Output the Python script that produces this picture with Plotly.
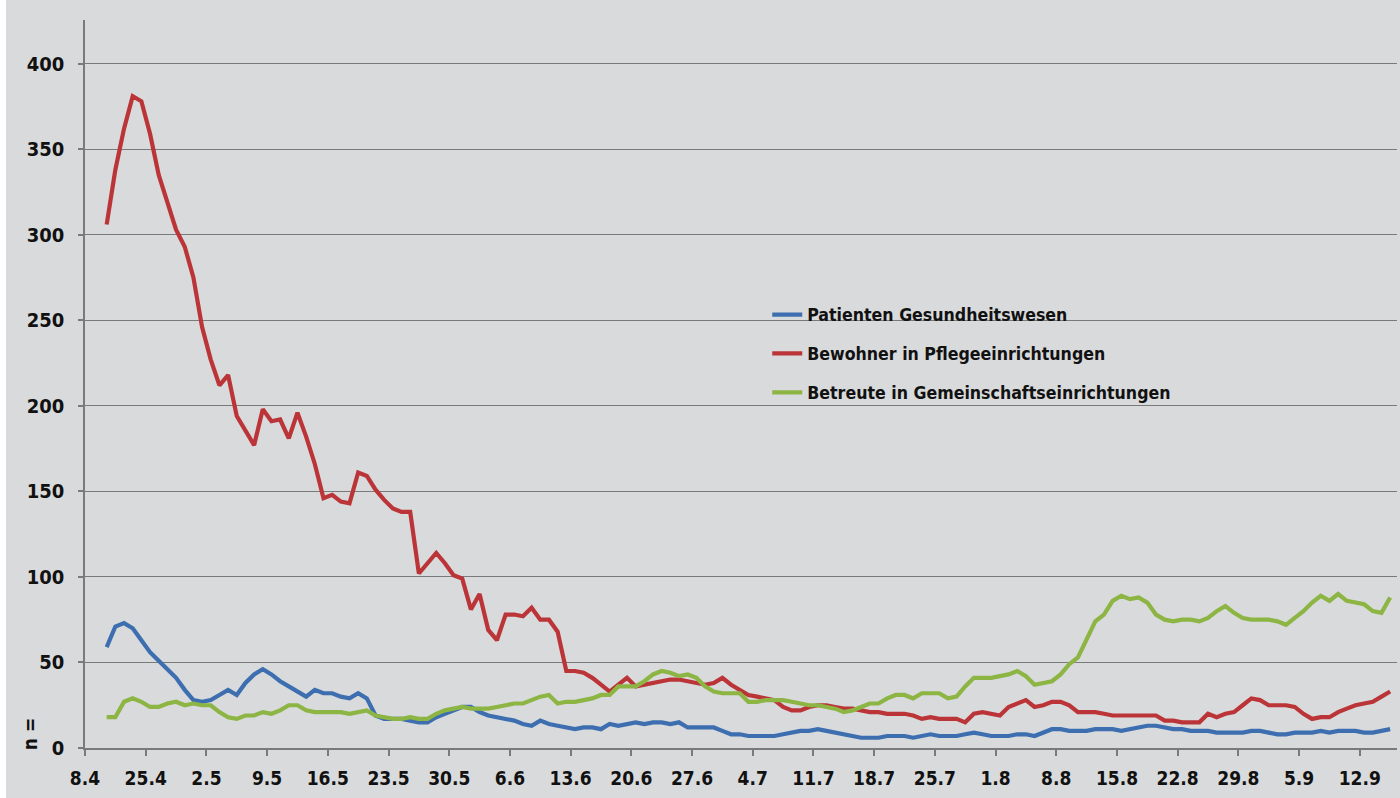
import pandas as pd
import plotly.graph_objects as go

# ---- data (daily values) ----
start_date = "2020-04-20"

patienten = [59, 71, 73, 70, 63, 56, 51, 46, 41, 34,
             28, 27, 28, 31, 34, 31, 38, 43, 46, 43,
             39, 36, 33, 30, 34, 32, 32, 30, 29, 32,
             29, 19, 17, 17, 17, 16, 15, 15, 18, 20,
             22, 24, 24, 21, 19, 18, 17, 16, 14, 13,
             16, 14, 13, 12, 11, 12, 12, 11, 14, 13,
             14, 15, 14, 15, 15, 14, 15, 12, 12, 12,
             12, 10, 8, 8, 7, 7, 7, 7, 8, 9,
             10, 10, 11, 10, 9, 8, 7, 6, 6, 6,
             7, 7, 7, 6, 7, 8, 7, 7, 7, 8,
             9, 8, 7, 7, 7, 8, 8, 7, 9, 11,
             11, 10, 10, 10, 11, 11, 11, 10, 11, 12,
             13, 13, 12, 11, 11, 10, 10, 10, 9, 9,
             9, 9, 10, 10, 9, 8, 8, 9, 9, 9,
             10, 9, 10, 10, 10, 9, 9, 10, 11]

bewohner = [306, 338, 362, 381, 378, 359, 335, 318, 303, 293,
            275, 246, 227, 212, 218, 194, 185, 177, 198, 191,
            192, 181, 196, 182, 166, 146, 148, 144, 143, 161,
            159, 151, 145, 140, 138, 138, 102, 108, 114, 108,
            101, 99, 81, 90, 69, 63, 78, 78, 77, 82,
            75, 75, 68, 45, 45, 44, 41, 37, 33, 37,
            41, 36, 37, 38, 39, 40, 40, 39, 38, 37,
            38, 41, 37, 34, 31, 30, 29, 28, 24, 22,
            22, 24, 25, 25, 24, 23, 23, 22, 21, 21,
            20, 20, 20, 19, 17, 18, 17, 17, 17, 15,
            20, 21, 20, 19, 24, 26, 28, 24, 25, 27,
            27, 25, 21, 21, 21, 20, 19, 19, 19, 19,
            19, 19, 16, 16, 15, 15, 15, 20, 18, 20,
            21, 25, 29, 28, 25, 25, 25, 24, 20, 17,
            18, 18, 21, 23, 25, 26, 27, 30, 33]

betreute = [18, 18, 27, 29, 27, 24, 24, 26, 27, 25,
            26, 25, 25, 21, 18, 17, 19, 19, 21, 20,
            22, 25, 25, 22, 21, 21, 21, 21, 20, 21,
            22, 19, 18, 17, 17, 18, 17, 17, 20, 22,
            23, 24, 23, 23, 23, 24, 25, 26, 26, 28,
            30, 31, 26, 27, 27, 28, 29, 31, 31, 36,
            36, 36, 39, 43, 45, 44, 42, 43, 41, 36,
            33, 32, 32, 32, 27, 27, 28, 28, 28, 27,
            26, 25, 25, 24, 23, 21, 22, 24, 26, 26,
            29, 31, 31, 29, 32, 32, 32, 29, 30, 36,
            41, 41, 41, 42, 43, 45, 42, 37, 38, 39,
            43, 49, 53, 64, 74, 78, 86, 89, 87, 88,
            85, 78, 75, 74, 75, 75, 74, 76, 80, 83,
            79, 76, 75, 75, 75, 74, 72, 76, 80, 85,
            89, 86, 90, 86, 85, 84, 80, 79, 88]

series_names = ["Patienten Gesundheitswesen",
                "Bewohner in Pflegeeinrichtungen",
                "Betreute in Gemeinschaftseinrichtungen"]
series_colors = ["#3d6fb0", "#bb3538", "#8cb543"]

tick_start = "2020-04-18"
tick_labels = ["8.4", "25.4", "2.5", "9.5", "16.5", "23.5", "30.5", "6.6",
               "13.6", "20.6", "27.6", "4.7", "11.7", "18.7", "25.7", "1.8",
               "8.8", "15.8", "22.8", "29.8", "5.9", "12.9"]
y_ticks = [0, 50, 100, 150, 200, 250, 300, 350, 400]

# ---- figure ----
dates = pd.date_range(start_date, periods=len(bewohner), freq="D")
tick_dates = pd.date_range(tick_start, periods=len(tick_labels), freq="7D")

FONT = "DejaVu Sans Condensed, DejaVu Sans, sans-serif"
BG = "#d9dadc"
GRID = "#7a7a7a"
PLOT_W = 1400 - 85 - 3
PLOT_H = 798 - 20 - 50

fig = go.Figure()
for name, vals, col in zip(series_names, [patienten, bewohner, betreute], series_colors):
    fig.add_trace(go.Scatter(
        x=dates, y=vals, name=name, mode="lines",
        line=dict(color=col, width=4.2),
        xperiod=86400000, xperiodalignment="middle",
        legendgroup=name,
    ))

fig.update_layout(
    width=1400, height=798,
    margin=dict(l=85, r=3, t=20, b=50),
    paper_bgcolor=BG, plot_bgcolor=BG,
    font=dict(family=FONT, size=18, color="#111111"),
    showlegend=True,
    legend=dict(
        x=0.52, y=0.62, xanchor="left", yanchor="top",
        bgcolor="rgba(0,0,0,0)", borderwidth=0,
        font=dict(family=FONT, size=17.6, color="#111111", weight="bold"),
        tracegroupgap=13,
    ),
    xaxis=dict(
        type="date",
        range=["2020-04-18", "2020-09-16 07:00"],
        tickmode="array", tickvals=tick_dates, ticktext=tick_labels,
        showgrid=False, zeroline=False,
        showline=True, linecolor=GRID, linewidth=1.5,
        ticks="outside", ticklen=6, tickcolor=GRID, tickwidth=1.5,
        tickfont=dict(family=FONT, size=19, color="#111111", weight="bold"),
        ticklabelstandoff=6,
    ),
    yaxis=dict(
        range=[0, 425.5],
        tickmode="array", tickvals=y_ticks,
        showgrid=True, gridcolor=GRID, gridwidth=1.3,
        zeroline=False,
        showline=True, linecolor=GRID, linewidth=1.5,
        ticks="outside", ticklen=5, tickcolor=GRID, tickwidth=1.5,
        tickfont=dict(family=FONT, size=20, color="#111111", weight="bold"),
        ticklabelstandoff=10,
    ),
    annotations=[dict(
        text="n =", textangle=-90, showarrow=False,
        xref="paper", yref="y", x=-0.042, y=8,
        xanchor="center", yanchor="middle",
        font=dict(family=FONT, size=19, color="#111111", weight="bold"),
    )],
    shapes=[
        # white strip at the very left edge of the picture
        dict(type="rect", xref="paper", yref="paper",
             x0=-85 / PLOT_W, x1=-79 / PLOT_W, y0=-60 / PLOT_H, y1=1 + 30 / PLOT_H,
             fillcolor="#ffffff", line=dict(width=0), layer="below"),
        # legend backdrop hiding the gridlines behind the legend
        dict(type="rect", xref="paper", yref="paper",
             x0=(757 - 85) / PLOT_W, x1=(1237 - 85) / PLOT_W,
             y0=(748 - 400) / PLOT_H, y1=(748 - 300) / PLOT_H,
             fillcolor=BG, line=dict(width=0), layer="between"),
    ],
)

fig.write_html("out.html",
               config={"displayModeBar": False},
               post_script="document.body.style.margin='0';document.body.style.overflow='hidden';")
